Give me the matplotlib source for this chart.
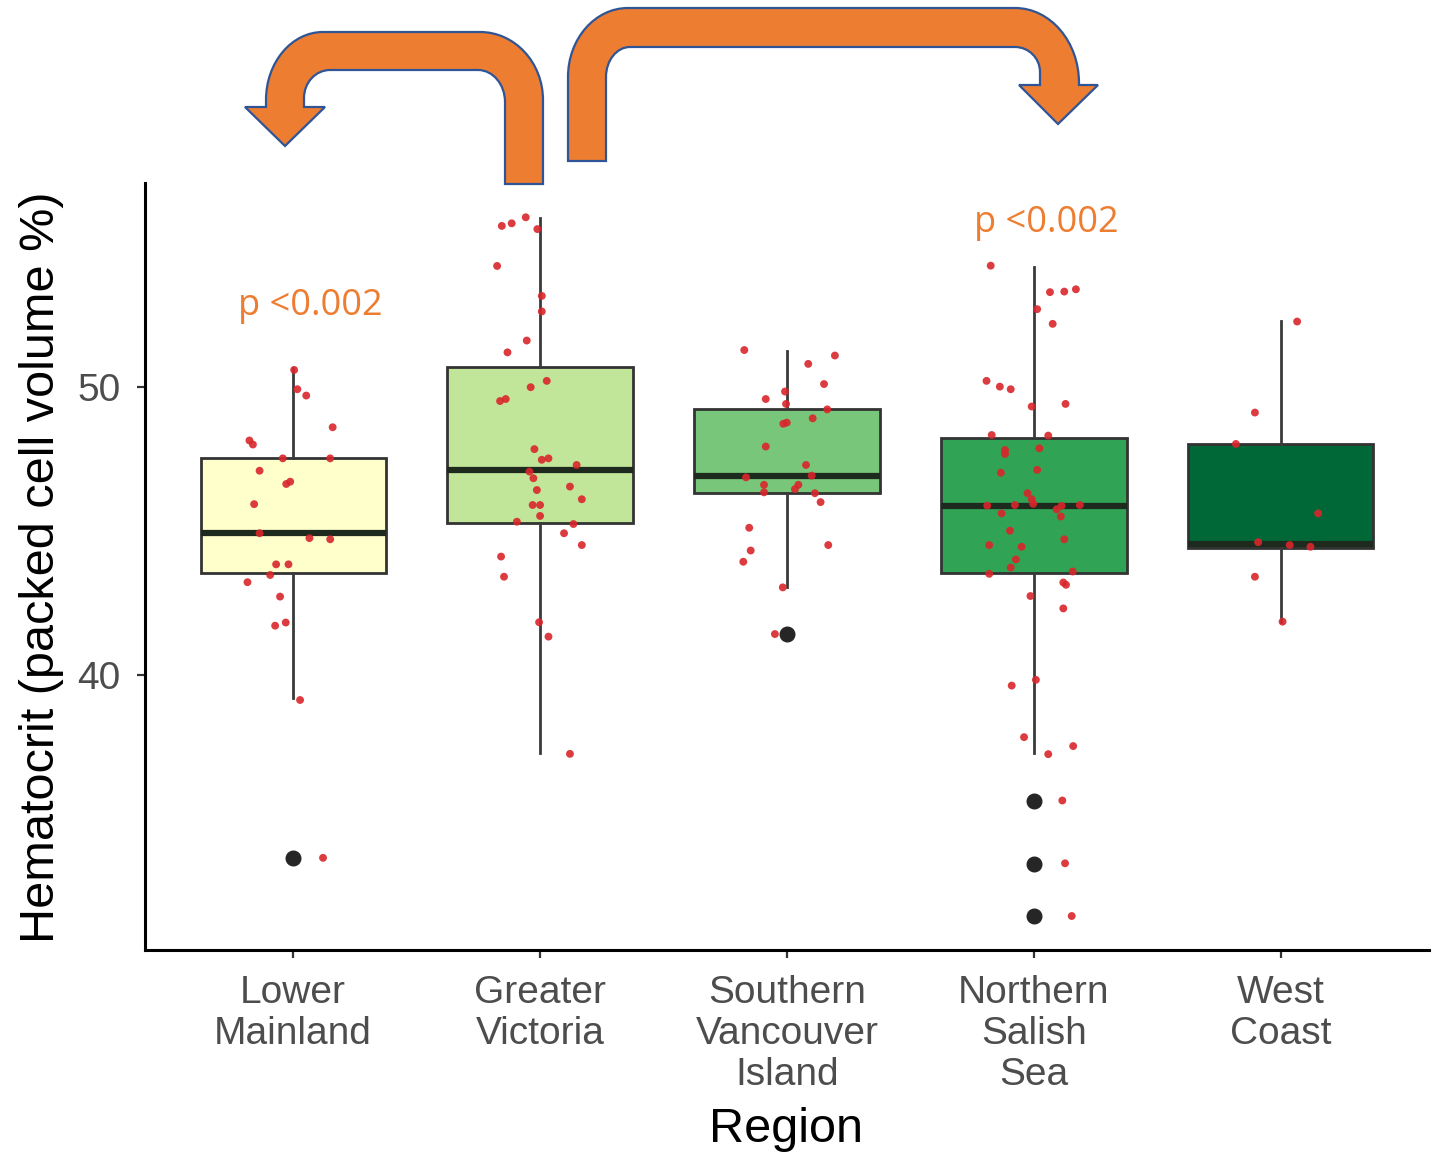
import matplotlib
matplotlib.use('Agg')
import matplotlib.pyplot as plt
from matplotlib.path import Path
from matplotlib.patches import PathPatch

# ---------------- data ----------------
regions = ['Lower\nMainland', 'Greater\nVictoria', 'Southern\nVancouver\nIsland',
           'Northern\nSalish\nSea', 'West\nCoast']
box_colors = ['#FFFFCC', '#C2E699', '#78C679', '#31A354', '#006837']

box_q1 = [43.54, 45.28, 46.32, 43.54, 44.40]
box_med = [44.93, 47.12, 46.91, 45.87, 44.55]
box_q3 = [47.53, 50.69, 49.24, 48.23, 48.02]
whisk_lo = [39.20, 37.29, 43.06, 37.29, 41.84]
whisk_hi = [50.66, 55.87, 51.25, 54.17, 52.29]
outliers = [[33.65], [], [41.42], [35.63, 33.44, 31.63], []]

lm_vals = [50.59, 49.92, 49.70, 48.60, 48.14, 48.00, 47.52, 47.52, 47.09, 46.63, 46.71, 45.93,
           44.92, 44.75, 44.71, 43.84, 43.84, 43.47, 43.22, 42.72, 41.71, 41.82, 39.13, 33.65]
lm_jit = [0.004, 0.017, 0.053, 0.16, -0.177, -0.163, -0.042, 0.15, -0.136, -0.028, -0.012, -0.158,
          -0.136, 0.066, 0.15, -0.069, -0.019, -0.093, -0.185, -0.053, -0.073, -0.03, 0.028, 0.121]

gv_vals = [55.59, 55.68, 55.89, 55.48, 54.20, 53.16, 52.62, 51.61, 51.20, 50.21, 49.99, 49.51,
           49.58, 47.84, 47.47, 47.52, 47.29, 47.06, 46.83, 46.42, 46.54, 46.10, 45.90, 45.90,
           45.52, 45.32, 45.24, 44.92, 44.51, 44.11, 43.41, 41.83, 41.33, 37.26]
gv_jit = [-0.155, -0.115, -0.058, -0.011, -0.174, 0.007, 0.007, -0.054, -0.132, 0.027, -0.038, -0.162,
          -0.139, -0.023, 0.007, 0.034, 0.148, -0.043, -0.027, -0.013, 0.121, 0.169, -0.03, 0.0,
          0.0, -0.094, 0.135, 0.097, 0.169, -0.158, -0.146, -0.004, 0.034, 0.121]

svi_vals = [51.28, 51.09, 50.80, 50.10, 49.84, 49.58, 49.41, 49.22, 48.91, 48.72, 48.76, 47.93,
            47.29, 46.92, 46.86, 46.60, 46.34, 46.60, 46.45, 46.31, 46.00, 45.11, 44.51, 44.32,
            43.93, 43.04, 41.42]
svi_jit = [-0.173, 0.194, 0.086, 0.15, -0.008, -0.086, -0.004, 0.163, 0.104, -0.015, -0.001, -0.086,
           0.077, 0.1, -0.166, -0.093, -0.093, 0.046, 0.032, 0.113, 0.136, -0.153, 0.167, -0.147,
           -0.177, -0.017, -0.049]

nss_vals = [54.21, 53.29, 53.31, 53.39, 52.70, 52.19, 50.21, 50.01, 49.92, 49.32, 49.41, 48.33,
            48.31, 47.81, 47.67, 47.87, 47.02, 47.12, 46.31, 46.10, 45.94, 45.88, 45.90, 45.87,
            45.75, 45.90, 45.61, 45.50, 45.01, 44.71, 44.51, 44.45, 44.01, 43.73, 43.51, 43.59,
            43.21, 43.13, 42.74, 42.31, 39.63, 39.83, 37.84, 37.53, 37.25, 35.64, 33.46, 31.63]
nss_jit = [-0.175, 0.065, 0.123, 0.17, 0.013, 0.076, -0.192, -0.138, -0.094, -0.009, 0.128, -0.171,
           0.058, -0.117, -0.117, 0.022, -0.134, 0.013, -0.026, -0.009, -0.003, -0.189, -0.077, 0.112,
           0.092, 0.186, -0.131, 0.109, -0.097, 0.123, -0.181, -0.05, -0.073, -0.094, -0.181, 0.157,
           0.119, 0.13, -0.014, 0.119, -0.09, 0.008, -0.04, 0.159, 0.058, 0.115, 0.126, 0.153]

wc_vals = [52.27, 49.11, 48.02, 45.61, 44.61, 44.51, 44.45, 43.41, 41.85]
wc_jit = [0.066, -0.105, -0.182, 0.151, -0.092, 0.036, 0.12, -0.105, 0.007]

point_vals = [lm_vals, gv_vals, svi_vals, nss_vals, wc_vals]
point_jit = [lm_jit, gv_jit, svi_jit, nss_jit, wc_jit]

p_labels = ['p <0.002', 'p <0.002']

y_ticks = [40, 50]

# ---------------- figure ----------------
W, H = 1440, 1155
plt.rcParams['font.family'] = ['Liberation Sans', 'DejaVu Sans']
fig = plt.figure(figsize=(W / 100, H / 100), dpi=100)
fig.patch.set_facecolor('white')

ax = fig.add_axes([145 / W, 1 - 950 / H, (1429 - 145) / W, (950 - 183) / H])
positions = list(range(1, len(regions) + 1))

stats = []
for i in range(len(regions)):
    stats.append(dict(med=box_med[i], q1=box_q1[i], q3=box_q3[i],
                      whislo=whisk_lo[i], whishi=whisk_hi[i], fliers=outliers[i]))

bp = ax.bxp(stats, positions=positions, widths=0.75, patch_artist=True, showcaps=False,
            boxprops=dict(edgecolor='#333333', linewidth=2.0),
            medianprops=dict(color='#1e2a1e', linewidth=4.5, solid_capstyle='butt'),
            whiskerprops=dict(color='#3a3a3a', linewidth=2.0),
            flierprops=dict(marker='o', markerfacecolor='#262626', markeredgecolor='#262626',
                            markersize=10.5))
for patch, c in zip(bp['boxes'], box_colors):
    patch.set_facecolor(c)
for m in bp['medians']:
    m.set_zorder(3)

for i, (vals, jit) in enumerate(zip(point_vals, point_jit)):
    xs = [positions[i] + j for j in jit]
    ax.scatter(xs, vals, s=32, color='#D9262B', edgecolors='none', alpha=0.9, zorder=5)

ax.set_xlim(0.4, 5.6)
ax.set_ylim(30.45, 57.08)
ax.set_xticks(positions)
ax.set_xticklabels(regions, linespacing=1.17)
ax.set_yticks(y_ticks)
for s in ['top', 'right']:
    ax.spines[s].set_visible(False)
for s in ['left', 'bottom']:
    ax.spines[s].set_linewidth(2.2)
    ax.spines[s].set_color('black')
ax.tick_params(axis='both', length=5.5, width=1.6, color='#333333', labelcolor='#4D4D4D',
               labelsize=28)
ax.tick_params(axis='x', pad=12.5)
ax.tick_params(axis='y', pad=12)

fig.text(786 / W, 1 - 1130 / H, 'Region', ha='center', va='center', fontsize=35, color='black')
fig.text(42 / W, 1 - 567 / H, 'Hematocrit (packed cell volume %)', ha='center', va='center',
         rotation=90, fontsize=35, color='black')

# p-value annotations
ax.text(positions[0] + 0.07, 52.8, p_labels[0], ha='center', va='center', fontsize=26,
        color='#ED7D31', family=['Open Sans', 'DejaVu Sans'])
ax.text(positions[3] + 0.05, 55.7, p_labels[1], ha='center', va='center', fontsize=26,
        color='#ED7D31', family=['Open Sans', 'DejaVu Sans'])


# ---------------- bent arrows (figure pixel coordinates) ----------------
def corner(p0, c, p3, k=0.552):
    cp1 = (p0[0] + k * (c[0] - p0[0]), p0[1] + k * (c[1] - p0[1]))
    cp2 = (p3[0] + k * (c[0] - p3[0]), p3[1] + k * (c[1] - p3[1]))
    return [cp1, cp2, p3], [Path.CURVE4] * 3


def build(segments):
    verts, codes = [], []
    for seg in segments:
        if seg[0] == 'M':
            verts.append(seg[1]); codes.append(Path.MOVETO)
        elif seg[0] == 'L':
            verts.append(seg[1]); codes.append(Path.LINETO)
        elif seg[0] == 'C':
            v, c = corner(verts[-1], seg[1], seg[2])
            verts += v; codes += c
    verts.append(verts[0]); codes.append(Path.CLOSEPOLY)
    verts = [(x / W, 1 - y / H) for x, y in verts]
    return Path(verts, codes)


left_arrow = [('M', (543, 184)), ('L', (543, 100)), ('C', (543, 32), (480, 32)),
              ('L', (323, 32)), ('C', (266, 32), (266, 100)), ('L', (266, 107)),
              ('L', (245, 107)), ('L', (285, 146)), ('L', (325, 107)), ('L', (304, 107)),
              ('L', (304, 98)), ('C', (304, 70), (330, 70)), ('L', (478, 70)),
              ('C', (505, 70), (505, 102)), ('L', (505, 184))]
right_arrow = [('M', (568, 161)), ('L', (568, 77)), ('C', (568, 8), (628, 8)),
               ('L', (1015, 8)), ('C', (1079, 8), (1079, 83)), ('L', (1079, 85)),
               ('L', (1098, 85)), ('L', (1058, 124)), ('L', (1019, 85)), ('L', (1040, 85)),
               ('L', (1040, 72)), ('C', (1040, 47), (1015, 47)), ('L', (630, 47)),
               ('C', (606, 47), (606, 77)), ('L', (606, 161))]

for spec in (left_arrow, right_arrow):
    fig.patches.append(PathPatch(build(spec), transform=fig.transFigure, facecolor='#ED7D31',
                                 edgecolor='#2F5597', linewidth=1.6, zorder=10))

fig.savefig('out.png', dpi=100, facecolor='white')
